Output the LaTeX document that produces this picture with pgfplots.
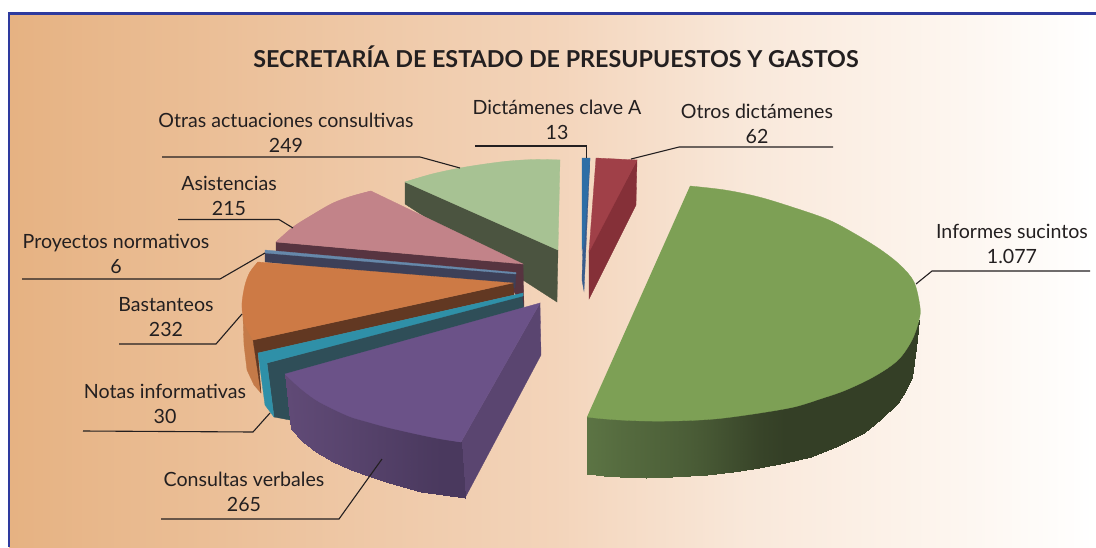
\documentclass[border=0pt]{standalone}
\usepackage{pgfplots}
\usepackage{fontspec}
\setmainfont{Lato}
\pgfplotsset{compat=1.18}
\definecolor{gT}{RGB}{125,160,85}
\definecolor{pT}{RGB}{107,82,136}
\definecolor{pR}{RGB}{90,69,112}
\definecolor{lT}{RGB}{167,194,147}
\definecolor{lS}{RGB}{75,84,64}
\definecolor{bT}{RGB}{46,110,166}
\definecolor{bS}{RGB}{58,92,140}
\definecolor{rT}{RGB}{160,64,72}
\definecolor{rS}{RGB}{133,48,56}
\definecolor{kT}{RGB}{194,131,137}
\definecolor{kS}{RGB}{87,52,64}
\definecolor{nT}{RGB}{102,136,170}
\definecolor{nS}{RGB}{61,64,88}
\definecolor{oT}{RGB}{205,122,69}
\definecolor{oS}{RGB}{98,56,34}
\definecolor{oO}{RGB}{196,122,72}
\definecolor{tT}{RGB}{47,144,168}
\definecolor{tS}{RGB}{47,78,88}
\definecolor{frame}{RGB}{46,58,158}
\definecolor{txt}{RGB}{35,31,32}
\pgfdeclarehorizontalshading{bgshade}{100bp}{
 rgb(0bp)=(.902,.698,.51);
 rgb(25bp)=(.902,.698,.51);
 rgb(50bp)=(.953,.831,.729);
 rgb(59bp)=(.976,.91,.855);
 rgb(68bp)=(.992,.961,.933);
 rgb(75bp)=(1,1,1);
 rgb(100bp)=(1,1,1)}
\newcommand{\poly}[2]{\addplot[fill=#1,draw=#1,line width=.3pt] coordinates {#2} -- cycle;}
\newcommand{\arcf}[2]{\addplot[smooth,tension=.55,fill=#1,draw=#1,line width=.3pt] coordinates {#2};}
\newcommand{\leader}[1]{\addplot[color=txt,line width=1.1pt] coordinates {#1};}
\newcommand{\lab}[4]{\node[anchor=base,text=txt,font=\fontsize{19.6}{20}\selectfont] at (axis cs:#1,#2) {#3};
 \node[anchor=base,text=txt,font=\fontsize{19.6}{20}\selectfont] at (axis cs:#1,#2+25) {#4};}
\begin{document}
\begin{tikzpicture}
\begin{axis}[hide axis,scale only axis,width=1096pt,height=547pt,
  xmin=0,xmax=1096,ymin=0,ymax=547,y dir=reverse,clip=true,
  point meta min=0,point meta max=1,
  sideg/.style={patch,patch type=rectangle,shader=interp,point meta=explicit,
    colormap={cg}{rgb255=(52,63,38) rgb255=(92,116,68)}},
  sidep/.style={patch,patch type=rectangle,shader=interp,point meta=explicit,
    colormap={cp}{rgb255=(74,57,94) rgb255=(96,74,118)}}]
\fill[white] (axis cs:0,0) rectangle (axis cs:1096,547);
\shade[shading=bgshade] (axis cs:9,13) rectangle (axis cs:1096,547);
\draw[frame,line width=2.8pt] (axis cs:9,547) -- (axis cs:9,13.5) -- (axis cs:1096,13.5);
% Otras actuaciones consultivas
\poly{lS}{(405,182)(558,250)(557,302)(405,204)}
\arcf{lT}{(405,182)(432,174)(460,168)(485,164)(509,161)(535,159.5)(560,160)}
\poly{lT}{(405,182)(432,174.5)(460,168.5)(485,164.5)(509,161.5)(535,160)(560,160)(558,250)}
% Dictamenes clave A
\poly{bS}{(590,158)(584,291)(582,280)(583,240)}
\poly{bT}{(582,158)(590,158)(584,245)(582,250)}
% Otros dictamenes
\poly{rS}{(637,160)(636,205)(589,299)(589,250)}
\poly{rT}{(596,158)(637,160)(589,252)}
% Informes sucintos side
\addplot[sideg] coordinates {
 (587,417)[1] (604,414)[.92] (604,476)[.92] (587,474)[1]
 (604,414)[.92] (620,415)[.84] (620,477)[.84] (604,476)[.92]
 (620,415)[.84] (646,415)[.74] (646,478)[.74] (620,477)[.84]
 (646,415)[.74] (672,415)[.64] (672,477)[.64] (646,478)[.74]
 (672,415)[.64] (690,414)[.56] (690,476)[.56] (672,477)[.64]
 (690,414)[.56] (707,413)[.46] (707,475)[.46] (690,476)[.56]
 (707,413)[.46] (733,410)[.28] (733,472)[.28] (707,475)[.46]
 (733,410)[.28] (759,406)[.1] (759,468)[.1] (733,472)[.28]
 (759,406)[.1] (785,402)[0] (785,463)[0] (759,468)[.1]
 (785,402)[0] (811,394)[0] (811,457)[0] (785,463)[0]
 (811,394)[0] (838,385)[0] (838,446)[0] (811,457)[0]
 (838,385)[0] (864,375)[0] (864,433)[0] (838,446)[0]
 (864,375)[0] (881,365)[0] (881,419)[0] (864,433)[0]
 (881,365)[0] (898,352)[0] (898,403)[0] (881,419)[0]
 (898,352)[0] (906,345)[0] (906,390)[0] (898,403)[0]
 (906,345)[0] (912,335)[0] (912,377)[0] (906,390)[0]
 (912,335)[0] (919,320)[0] (916,348)[0] (912,377)[0]
};
% Informes sucintos top
\arcf{gT}{(690,186)(725,190)(759,197)(795,208)(829,220)(857,235)(881,250)(900,265)(914,282)(920,307)(919,320)(912,340)(898,360)(875,376)(846,390)(820,399)(794,407)(760,413)(724,418)(700,420)(672,421)(645,421)(620,420)(600,418.5)(587,417)}
% Asistencias
\poly{kS}{(276,242)(523,264)(524,307)(514,292)(276,252)}
\arcf{kT}{(276,242)(293,227)(312,215)(333,203)(352,196)(371,191)}
\poly{kT}{(276,242)(293,227.5)(312,215.5)(333,203.5)(352,196.5)(371,191)(523,264)}
% Proyectos normativos
\poly{nS}{(265,252)(516,274)(515,288)(265,262)}
\poly{nT}{(265,250)(516,272.5)(516,274)(265,253)}
% Bastanteos
\poly{oO}{(243,317)(244,345)(247,370)(254,385)(261,393)(253,340)}
\poly{oS}{(253,340)(513,283)(514,295)(258,353)(261,393)}
\arcf{oT}{(258,262)(250,272)(245,285)(242,303)(243,317)(246,327)(253,340)}
\poly{oT}{(258,262)(250.5,272)(245.5,285)(242.5,303)(243.5,317)(246.5,327)(253,340)(513,283)}
% Notas informativas
\poly{tS}{(267,363)(522,295)(524,310)(290,420)(274,417)}
\poly{tT}{(258,353)(523,293)(523,296)(267,363)}
\poly{tT}{(258,353)(267,363)(274,417)(265,405)}
% Consultas verbales
\poly{pR}{(461,442)(540,303)(541,355)(465,498)}
\addplot[sidep] coordinates {
 (285,374)[1] (300,385)[.92] (303,442)[.92] (291,429)[1]
 (300,385)[.92] (316,397)[.84] (316,452)[.84] (303,442)[.92]
 (316,397)[.84] (333,406)[.74] (333,462)[.74] (316,452)[.84]
 (333,406)[.74] (351,414)[.62] (351,470)[.62] (333,462)[.74]
 (351,414)[.62] (368,419)[.5] (368,476)[.5] (351,470)[.62]
 (368,419)[.5] (386,424)[.38] (386,482)[.38] (368,476)[.5]
 (386,424)[.38] (403,428)[.26] (403,487)[.26] (386,482)[.38]
 (403,428)[.26] (421,432)[.12] (421,492)[.12] (403,487)[.26]
 (421,432)[.12] (443,436)[0] (443,495)[0] (421,492)[.12]
 (443,436)[0] (461,442)[0] (465,498)[0] (443,495)[0]
};
\arcf{pT}{(285,374)(300,388)(316,400)(333,409)(351,417)(368,422)(386,427)(403,431)(421,435)(441,439)(461,442)}
\poly{pT}{(285,374)(300,387.5)(316,399.5)(333,408.5)(351,416.5)(368,421.5)(386,426.5)(403,430.5)(421,434.5)(441,438.5)(461,442)(540,303)}
% leaders
\leader{(475,146)(586.5,146)(586.5,158)}
\leader{(833,147)(679,147)(631,159)}
\leader{(1090,271)(932,271)(916,284)}
\leader{(162,157)(420,157)(460,168)}
\leader{(178,219.5)(279,219.5)(293,228)}
\leader{(22,279)(220,279)(265,253)}
\leader{(119,344)(216,344)(242,314)}
\leader{(83,431)(253,432)(270,413)}
\leader{(161,519)(339,519)(382,459)}
% labels
\node[anchor=base,text=txt,font=\fontsize{23.3}{24}\selectfont\bfseries] at (axis cs:556,67) {SECRETARÍA DE ESTADO DE PRESUPUESTOS Y GASTOS};
\lab{557}{114}{Dictámenes clave A}{13}
\lab{757}{118}{Otros dictámenes}{62}
\lab{1012}{238}{Informes sucintos}{1.077}
\lab{286}{127}{Otras actuaciones consultivas}{249}
\lab{229}{190}{Asistencias}{215}
\lab{116}{248}{Proyectos normativos}{6}
\lab{166}{311}{Bastanteos}{232}
\lab{165}{398}{Notas informativas}{30}
\lab{244}{486}{Consultas verbales}{265}
\end{axis}
\end{tikzpicture}
\end{document}
